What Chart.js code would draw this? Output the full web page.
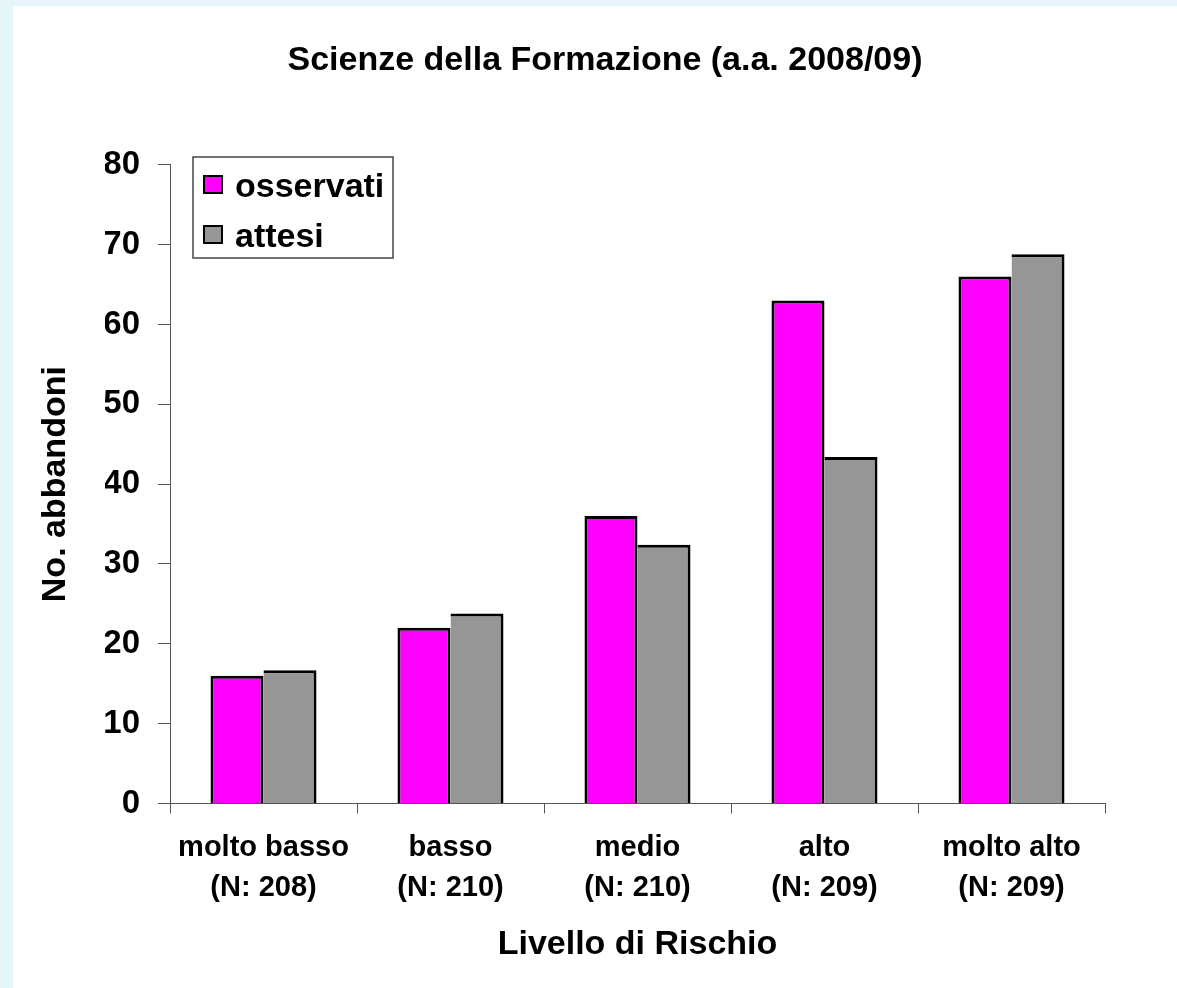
<!DOCTYPE html>
<html>
<head>
<meta charset="utf-8">
<script src="https://cdn.jsdelivr.net/npm/chart.js@4"></script>
<style>
  html, body { margin: 0; padding: 0; background: #ffffff; }
  #c { display: block; }
</style>
</head>
<body>
<canvas id="c" width="1177" height="988"></canvas>
<script>
// ---- data ----
const categories = ['molto basso', 'basso', 'medio', 'alto', 'molto alto'];
const sampleSizes = [208, 210, 210, 209, 209];
const osservati = [16, 22, 36, 63, 66];
const attesi = [16.7, 23.8, 32.4, 43.4, 68.8];
const seriesNames = ['osservati', 'attesi'];
const yTicks = { min: 0, max: 80, step: 10 };
const chartTitle = 'Scienze della Formazione (a.a. 2008/09)';
const xTitle = 'Livello di Rischio';
const yTitle = 'No. abbandoni';

const FONT = "'Liberation Sans', Arial, Helvetica, sans-serif";
const labels = categories.map((c, i) => [c, '(N: ' + sampleSizes[i] + ')']);

const backgroundPlugin = {
  id: 'bg',
  beforeDraw(chart) {
    const ctx = chart.ctx;
    ctx.save();
    ctx.fillStyle = '#e5f6fa';
    ctx.fillRect(0, 0, chart.width, chart.height);
    ctx.fillStyle = '#ffffff';
    ctx.fillRect(13, 6, chart.width - 13, chart.height - 6);
    ctx.restore();
  }
};

const boxLegendPlugin = {
  id: 'boxLegend',
  afterDraw(chart) {
    const ctx = chart.ctx;
    ctx.save();
    ctx.strokeStyle = '#444444';
    ctx.lineWidth = 1.5;
    ctx.strokeRect(193, 157, 200, 101);
    ctx.font = 'bold 34px ' + FONT;
    ctx.textBaseline = 'alphabetic';
    ctx.textAlign = 'left';
    chart.data.datasets.forEach((ds, i) => {
      const sy = 176 + i * 50;
      ctx.fillStyle = ds.backgroundColor;
      ctx.fillRect(204, sy, 18, 17);
      ctx.strokeStyle = '#000000';
      ctx.lineWidth = 2;
      ctx.strokeRect(204, sy, 18, 17);
      ctx.fillStyle = '#000000';
      ctx.fillText(ds.label, 235, 197 + i * 50);
    });
    ctx.restore();
  }
};

new Chart(document.getElementById('c'), {
  type: 'bar',
  data: {
    labels: labels,
    datasets: [
      {
        label: seriesNames[0],
        data: osservati,
        backgroundColor: '#ff00ff',
        borderColor: '#000000',
        borderWidth: 3,
        categoryPercentage: 0.567,
        barPercentage: 1.0
      },
      {
        label: seriesNames[1],
        data: attesi,
        backgroundColor: '#969696',
        borderColor: '#000000',
        borderWidth: { top: 3, right: 3, left: 0, bottom: 0 },
        categoryPercentage: 0.567,
        barPercentage: 1.0
      }
    ]
  },
  options: {
    responsive: false,
    animation: false,
    devicePixelRatio: 1,
    layout: { padding: { left: 105, right: 72, top: 0, bottom: 0 } },
    plugins: {
      legend: { display: false },
      tooltip: { enabled: false },
      title: {
        display: true,
        text: chartTitle,
        color: '#000000',
        font: { family: FONT, size: 34, weight: 'bold', lineHeight: 1.2 },
        padding: { top: 40, bottom: 84 }
      }
    },
    scales: {
      x: {
        offset: true,
        grid: {
          display: true,
          offset: true,
          drawOnChartArea: false,
          drawTicks: true,
          tickLength: 10,
          color: '#555555',
          lineWidth: 1
        },
        border: { display: true, color: '#555555', width: 1 },
        ticks: {
          color: '#000000',
          font: { family: FONT, size: 29, weight: 'bold', lineHeight: 1.38 },
          padding: 14,
          maxRotation: 0,
          autoSkip: false
        },
        title: {
          display: true,
          text: xTitle,
          color: '#000000',
          font: { family: FONT, size: 34, weight: 'bold', lineHeight: 1.2 },
          padding: { top: 0, bottom: 23 }
        },
        afterFit(scale) { scale.height = 184.5; }
      },
      y: {
        min: yTicks.min,
        max: yTicks.max,
        grid: {
          display: true,
          drawOnChartArea: false,
          drawTicks: true,
          tickLength: 12,
          color: '#555555',
          lineWidth: 1
        },
        border: { display: true, color: '#555555', width: 1 },
        ticks: {
          stepSize: yTicks.step,
          color: '#000000',
          font: { family: FONT, size: 33, weight: 'bold' },
          padding: 18
        },
        title: {
          display: true,
          text: yTitle,
          color: '#000000',
          font: { family: FONT, size: 34, weight: 'bold', lineHeight: 1.2 },
          padding: { top: -69.4, bottom: 0 }
        },
        afterFit(scale) { scale.width = 65; }
      }
    }
  },
  plugins: [backgroundPlugin, boxLegendPlugin]
});
</script>
</body>
</html>
